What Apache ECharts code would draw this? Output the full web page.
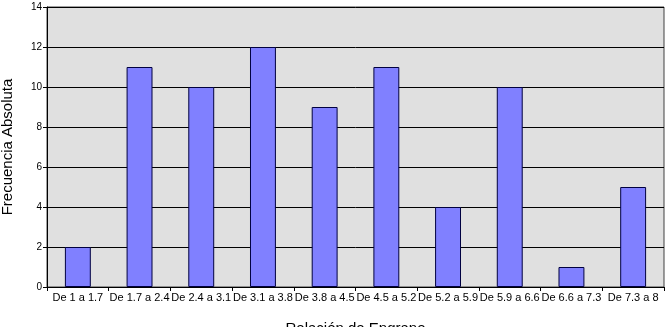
<!DOCTYPE html>
<html><head><meta charset="utf-8">
<script src="https://cdn.jsdelivr.net/npm/echarts@6/dist/echarts.min.js"></script>
<style>html,body{margin:0;padding:0;background:#fff}#c{width:671px;height:327px}</style>
</head><body><div id="c"></div>
<script>
var categories = ["De 1 a 1.7","De 1.7 a 2.4","De 2.4 a 3.1","De 3.1 a 3.8","De 3.8 a 4.5","De 4.5 a 5.2","De 5.2 a 5.9","De 5.9 a 6.6","De 6.6 a 7.3","De 7.3 a 8"];
var values = [2,11,10,12,9,11,4,10,1,5];
var yTicks = [0,2,4,6,8,10,12,14];
var chart = echarts.init(document.getElementById('c'), null, {renderer:'canvas'});
chart.setOption({
  animation:false,
  backgroundColor:'#fff',
  grid:{left:47,right:7,top:7,bottom:40,outerBoundsMode:'none',containLabel:false,show:true,backgroundColor:'#E0E0E0',borderColor:'#404040',borderWidth:1},
  xAxis:{type:'category',data:categories,
    name:'Relación de Engrane',nameLocation:'middle',nameGap:34,
    nameTextStyle:{fontFamily:'Liberation Sans',fontSize:15,color:'#000'},
    axisLine:{lineStyle:{color:'#000'}},
    axisTick:{show:true,alignWithLabel:false,length:4,lineStyle:{color:'#000'}},
    axisLabel:{fontFamily:'Liberation Sans',fontSize:11,color:'#000',interval:0,margin:5}},
  yAxis:{type:'value',min:0,max:14,interval:2,
    name:'Frecuencia Absoluta',nameLocation:'middle',nameGap:32,
    nameTextStyle:{fontFamily:'Liberation Sans',fontSize:15,color:'#000'},
    axisLine:{show:true,lineStyle:{color:'#000'}},
    axisTick:{show:true,length:4,lineStyle:{color:'#000'}},
    axisLabel:{fontFamily:'Liberation Sans',fontSize:10,color:'#000',margin:5,
      formatter:function(v){return yTicks.indexOf(v)>=0?String(v):'';}},
    splitLine:{show:true,lineStyle:{color:'#000',width:1}}},
  series:[{type:'bar',data:values,barWidth:'42%',
    itemStyle:{color:'#8080FF',borderColor:'#000040',borderWidth:1}}]
});
</script></body></html>
